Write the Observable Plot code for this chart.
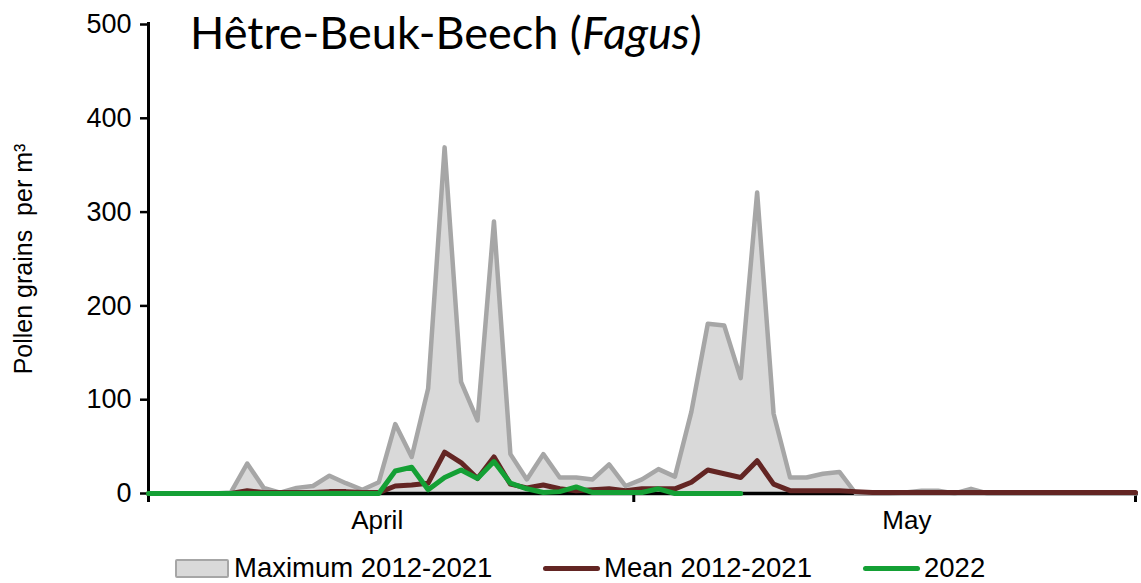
<!DOCTYPE html>
<html>
<head>
<meta charset="utf-8">
<script src="https://cdn.jsdelivr.net/npm/d3@7"></script>
<script src="https://cdn.jsdelivr.net/npm/@observablehq/plot@0.6"></script>
<style>
  html, body { margin: 0; padding: 0; background: #fff; }
  #wrap { position: relative; width: 1141px; height: 583px; font-family: "Liberation Sans", Arial, sans-serif; color: #000; overflow: hidden; }
  #title { position: absolute; left: 190px; top: 10px; font-family: Lato, "Noto Sans", sans-serif; font-size: 45px; white-space: nowrap; line-height: 1; }
  #legend { position: absolute; left: 0; top: 549px; width: 1141px; height: 38px; font-size: 27.5px; }
  .lg { position: absolute; top: 0; height: 38px; display: flex; align-items: center; white-space: nowrap; }
  .sw-area { width: 50px; height: 15px; background: #d9d9d9; border: 2.5px solid #a6a6a6; border-radius: 2px; margin-right: 5px; }
  .sw-line { width: 57px; height: 5px; border-radius: 3px; margin-right: 4px; }
</style>
</head>
<body>
<div id="wrap">
  <div id="chart"></div>
  <div id="title">Hêtre-Beuk-Beech (<i>Fagus</i>)</div>
  <div id="legend"></div>
</div>
<script>
// Day index 0 = 1 April ... 60 = 31 May
const days = d3.range(61);
const maxValues = [
  0, 0, 0, 0, 0, 1, 32, 6, 1, 6,
  8, 19, 11, 4, 12, 74, 39, 112, 369, 119,
  78, 290, 42, 15, 42, 17, 17, 15, 31, 8,
  15, 26, 18, 87, 181, 179, 123, 321, 85, 17,
  17, 21, 23, 0, 0, 0, 1, 3, 3, 0,
  5, 0, 0, 0, 0, 0, 0, 0, 0, 0, 0
];
const meanValues = [
  0, 0, 0, 0, 0, 0, 3, 1, 1, 1,
  1, 2, 2, 1, 1, 8, 9, 11, 44, 33,
  16, 39, 10, 6, 9, 5, 3, 4, 5, 3,
  5, 5, 5, 12, 25, 21, 17, 35, 10, 3,
  3, 3, 3, 2, 1, 1, 1, 1, 1, 1,
  1, 1, 1, 1, 1, 1, 1, 1, 1, 1, 1
];
const values2022 = [
  0, 0, 0, 0, 0, 0, 0, 0, 0, 0,
  0, 0, 0, 0, 0, 24, 28, 4, 17, 25,
  16, 34, 11, 5, 1, 2, 7, 1, 1, 1,
  1, 5, 0, 0, 0, 0, 0
];
const monthLabels = ["April", "May"];
const monthLabelDays = [13.9, 46.1];
const monthBoundaryDays = [0, 29.5, 60];
const yTicks = [0, 100, 200, 300, 400, 500];
const yLabel = "Pollen grains  per m³";
const seriesNames = ["Maximum 2012-2021", "Mean 2012-2021", "2022"];

const maxData = days.map(i => ({day: i, v: maxValues[i]}));
const meanData = days.map(i => ({day: i, v: meanValues[i]}));
const data2022 = values2022.map((v, i) => ({day: i, v}));
const months = monthLabels.map((m, i) => ({m, day: monthLabelDays[i]}));

const plot = Plot.plot({
  width: 1141,
  height: 545,
  marginLeft: 148,
  marginRight: 6,
  marginTop: 24,
  marginBottom: 52,
  style: {fontFamily: '"Liberation Sans", Arial, sans-serif', color: "#000", background: "#fff"},
  x: {domain: [0, 60]},
  y: {domain: [0, 500]},
  marks: [
    Plot.areaY(maxData, {x: "day", y: "v", fill: "#d9d9d9"}),
    Plot.axisY({ticks: yTicks, tickSize: 8, tickPadding: 9, fontSize: 27, strokeWidth: 2.5, label: null}),
    Plot.axisX({ticks: monthBoundaryDays, tickSize: 9, strokeWidth: 3, tickFormat: () => "", label: null}),
    Plot.text(months, {x: "day", text: "m", frameAnchor: "bottom", dy: 35, fontSize: 26}),
    Plot.text([yLabel], {frameAnchor: "left", dx: -125, rotate: -90, textAnchor: "middle", fontSize: 25}),
    Plot.ruleX([0], {stroke: "#000", strokeWidth: 3, insetTop: -2}),
    Plot.ruleY([0], {stroke: "#000", strokeWidth: 3.5, insetLeft: -1, insetRight: -3}),
    Plot.lineY(maxData, {x: "day", y: "v", stroke: "#a6a6a6", strokeWidth: 4.5}),
    Plot.lineY(meanData, {x: "day", y: "v", stroke: "#632523", strokeWidth: 5}),
    Plot.lineY(data2022, {x: "day", y: "v", stroke: "#14a035", strokeWidth: 5})
  ]
});
document.getElementById("chart").appendChild(plot);

const legend = document.getElementById("legend");
const items = [
  {left: 175, sw: '<div class="sw-area"></div>'},
  {left: 543, sw: '<div class="sw-line" style="background:#632523"></div>'},
  {left: 863, sw: '<div class="sw-line" style="background:#14a035"></div>'}
];
items.forEach((it, i) => {
  const d = document.createElement("div");
  d.className = "lg";
  d.style.left = it.left + "px";
  d.innerHTML = it.sw + "<span>" + seriesNames[i] + "</span>";
  legend.appendChild(d);
});
</script>
</body>
</html>
